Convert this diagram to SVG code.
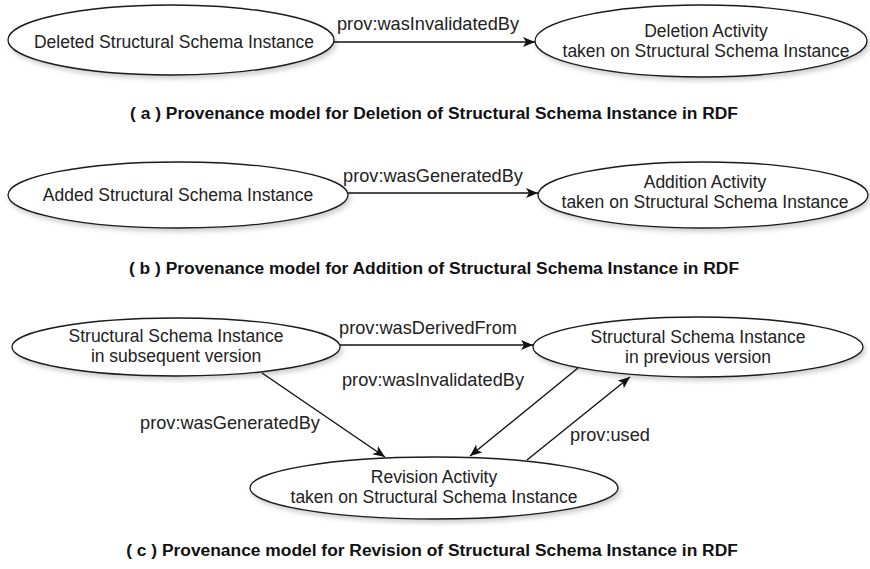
<svg xmlns="http://www.w3.org/2000/svg" width="870" height="569" viewBox="0 0 870 569">
  <style>
    .node { fill: #ffffff; stroke: #1a1a1a; stroke-width: 1.3; filter: url(#shadow); }
    .lbl { font-family: "Liberation Sans", Arial, sans-serif; font-size: 17.5px; fill: #222; text-anchor: middle; }
    .elbl { font-family: "Liberation Sans", Arial, sans-serif; font-size: 18.2px; fill: #222; text-anchor: middle; }
    .cap { font-family: "Liberation Sans", Arial, sans-serif; font-size: 17.4px; font-weight: bold; fill: #111; text-anchor: middle; }
    .edge { stroke: #111; stroke-width: 1.4; fill: none; marker-end: url(#arrow); }
  </style>
  <defs>
    <filter id="shadow" x="-10%" y="-20%" width="125%" height="160%">
      <feDropShadow dx="2" dy="3" stdDeviation="2.5" flood-color="#000" flood-opacity="0.2"/>
    </filter>
    <marker id="arrow" viewBox="0 0 12 10" refX="12" refY="5" markerWidth="12" markerHeight="10" markerUnits="userSpaceOnUse" orient="auto">
      <path d="M0,0 L12,5 L0,10 L3,5 Z" fill="#111"/>
    </marker>
  </defs>
  <rect width="870" height="569" fill="#ffffff"/>

  <!-- (a) deletion -->
  <g id="a-deleted">
    <ellipse class="node" cx="171" cy="40" rx="163" ry="35"/>
    <text class="lbl" x="174" y="48">Deleted Structural Schema Instance</text>
  </g>
  <g id="a-deletion-activity">
    <ellipse class="node" cx="701" cy="41" rx="166" ry="36"/>
    <text class="lbl" x="706" y="37">Deletion Activity</text>
    <text class="lbl" x="706" y="57">taken on Structural Schema Instance</text>
  </g>

  <!-- (b) addition -->
  <g id="b-added">
    <ellipse class="node" cx="178" cy="195" rx="170" ry="33"/>
    <text class="lbl" x="178" y="201">Added Structural Schema Instance</text>
  </g>
  <g id="b-addition-activity">
    <ellipse class="node" cx="703" cy="195" rx="165" ry="33"/>
    <text class="lbl" x="705" y="188">Addition Activity</text>
    <text class="lbl" x="705" y="208">taken on Structural Schema Instance</text>
  </g>

  <!-- (c) revision -->
  <g id="c-subsequent">
    <ellipse class="node" cx="176" cy="347" rx="164" ry="29"/>
    <text class="lbl" x="176" y="342">Structural Schema Instance</text>
    <text class="lbl" x="176" y="362">in subsequent version</text>
  </g>
  <g id="c-previous">
    <ellipse class="node" cx="698" cy="347" rx="165" ry="30"/>
    <text class="lbl" x="698" y="343">Structural Schema Instance</text>
    <text class="lbl" x="698" y="363">in previous version</text>
  </g>
  <g id="c-revision-activity">
    <ellipse class="node" cx="434" cy="488" rx="184" ry="31"/>
    <text class="lbl" x="434" y="483">Revision Activity</text>
    <text class="lbl" x="434" y="503">taken on Structural Schema Instance</text>
  </g>

  <g id="connectors">
    <line class="edge" x1="334" y1="42" x2="535" y2="42"/>
    <text class="elbl" x="428" y="30">prov:wasInvalidatedBy</text>

    <line class="edge" x1="348" y1="193" x2="538" y2="193"/>
    <text class="elbl" x="433" y="182">prov:wasGeneratedBy</text>

    <line class="edge" x1="340" y1="345" x2="533" y2="345"/>
    <text class="elbl" x="428" y="334">prov:wasDerivedFrom</text>

    <line class="edge" x1="262" y1="373" x2="385" y2="457"/>
    <text class="elbl" x="230" y="429">prov:wasGeneratedBy</text>

    <line class="edge" x1="578" y1="368" x2="470" y2="456"/>
    <text class="elbl" x="433" y="386">prov:wasInvalidatedBy</text>

    <line class="edge" x1="527" y1="460" x2="630" y2="377"/>
    <text class="elbl" x="610" y="441">prov:used</text>
  </g>

  <g id="captions">
    <text class="cap" x="434" y="119">( a ) Provenance model for Deletion of Structural Schema Instance in RDF</text>
    <text class="cap" x="434" y="274">( b ) Provenance model for Addition of Structural Schema Instance in RDF</text>
    <text class="cap" x="432" y="556">( c ) Provenance model for Revision of Structural Schema Instance in RDF</text>
  </g>
</svg>
